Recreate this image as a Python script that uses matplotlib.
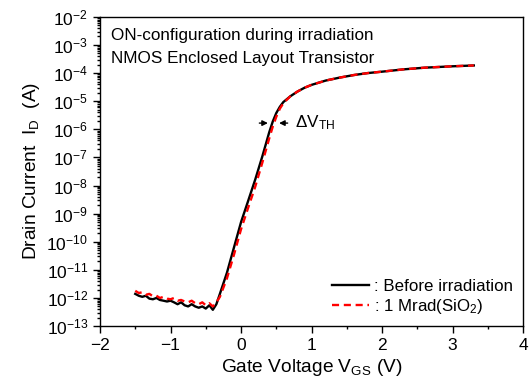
import matplotlib
matplotlib.use('Agg')
import matplotlib.pyplot as plt
from matplotlib.ticker import LogLocator, MultipleLocator, LogFormatterSciNotation, NullFormatter

plt.rcParams['font.family'] = 'Liberation Sans'
plt.rcParams['mathtext.fontset'] = 'custom'
plt.rcParams['mathtext.rm'] = 'Liberation Sans'
plt.rcParams['mathtext.it'] = 'Liberation Sans'
plt.rcParams['mathtext.default'] = 'regular'

# gate voltage (V)
vg_leak = [-1.5, -1.45, -1.4, -1.35, -1.3, -1.25, -1.2, -1.15, -1.1, -1.05,
           -1.0, -0.95, -0.9, -0.85, -0.8, -0.75, -0.7, -0.65, -0.6, -0.55,
           -0.5, -0.45, -0.4, -0.35]
vg_on = [-0.3, -0.2, -0.1, 0.0, 0.1, 0.2, 0.3, 0.4, 0.45, 0.5, 0.55, 0.6,
         0.7, 0.8, 0.9, 1.0, 1.2, 1.4, 1.6, 1.8, 2.0, 2.3, 2.6, 3.0, 3.3]

# drain current (A), before irradiation
id_before_leak = [1.4e-12, 1.2e-12, 1.1e-12, 1.2e-12, 0.95e-12, 0.9e-12, 1.0e-12, 0.85e-12,
                  0.8e-12, 0.75e-12, 0.8e-12, 0.7e-12, 0.6e-12, 0.7e-12, 0.55e-12, 0.5e-12,
                  0.6e-12, 0.5e-12, 0.45e-12, 0.5e-12, 0.42e-12, 0.55e-12, 0.38e-12, 0.6e-12]
id_before_on = [1.4e-12, 7.9e-12, 6.3e-11, 5.0e-10, 2.8e-9, 1.6e-8, 1.05e-7, 7.9e-7, 1.9e-6,
                3.8e-6, 6.3e-6, 9.3e-6, 1.5e-5, 2.2e-5, 3.0e-5, 3.8e-5, 5.4e-5, 6.9e-5,
                8.5e-5, 1.0e-4, 1.12e-4, 1.35e-4, 1.55e-4, 1.74e-4, 1.86e-4]

# drain current (A), after 1 Mrad
id_after_leak = [1.8e-12, 1.5e-12, 1.6e-12, 1.3e-12, 1.4e-12, 1.15e-12, 1.2e-12, 1.0e-12,
                 1.1e-12, 0.95e-12, 0.9e-12, 1.0e-12, 0.8e-12, 0.85e-12, 0.75e-12, 0.7e-12,
                 0.8e-12, 0.65e-12, 0.6e-12, 0.7e-12, 0.55e-12, 0.65e-12, 0.5e-12, 0.7e-12]
id_after_on = [1.1e-12, 5.0e-12, 3.5e-11, 2.8e-10, 1.6e-9, 8.9e-9, 6.3e-8, 4.8e-7, 1.26e-6,
               2.8e-6, 5.4e-6, 8.5e-6, 1.5e-5, 2.2e-5, 3.0e-5, 3.8e-5, 5.4e-5, 6.9e-5,
               8.5e-5, 1.0e-4, 1.12e-4, 1.35e-4, 1.55e-4, 1.74e-4, 1.86e-4]

vg = vg_leak + vg_on
id_before = id_before_leak + id_before_on
id_after = id_after_leak + id_after_on

fig = plt.figure(figsize=(5.29, 3.91), dpi=100)
ax = fig.add_axes([0.189, 0.166, 0.8, 0.791])

ax.plot(vg, id_before, color='black', lw=1.7, label=': Before irradiation')
ax.plot(vg, id_after, color='red', lw=1.7, ls=(0, (3, 2)), label=': 1 Mrad(SiO$_2$)')

ax.set_yscale('log')
ax.set_xlim(-2, 4)
ax.set_ylim(1e-13, 1e-2)

ax.xaxis.set_major_locator(MultipleLocator(1))
ax.xaxis.set_minor_locator(MultipleLocator(0.5))
ax.yaxis.set_major_locator(LogLocator(base=10, numticks=20))
ax.yaxis.set_minor_locator(LogLocator(base=10, subs=range(2, 10), numticks=20))
ax.yaxis.set_major_formatter(LogFormatterSciNotation())
ax.yaxis.set_minor_formatter(NullFormatter())

ax.tick_params(which='both', direction='out', top=False, right=False, labelsize=12.5, width=1)
ax.tick_params(which='major', length=5)
ax.tick_params(which='minor', length=2.5)
for s in ax.spines.values():
    s.set_linewidth(1)

ax.set_xlabel('Gate Voltage V$_{GS}$ (V)', fontsize=13.8, labelpad=3)
ax.set_ylabel('Drain Current  I$_D$  (A)', fontsize=13.8, labelpad=3)

ax.text(0.025, 0.965, 'ON-configuration during irradiation', transform=ax.transAxes,
        fontsize=12.3, va='top')
ax.text(0.025, 0.89, 'NMOS Enclosed Layout Transistor', transform=ax.transAxes,
        fontsize=12.3, va='top')

arrow_y = 1.66e-6
ax.annotate('', xy=(0.42, arrow_y), xytext=(0.22, arrow_y),
            arrowprops=dict(arrowstyle='-|>', color='black', lw=1, mutation_scale=8))
ax.annotate('', xy=(0.5, arrow_y), xytext=(0.7, arrow_y),
            arrowprops=dict(arrowstyle='-|>', color='black', lw=1, mutation_scale=8))
ax.text(0.76, arrow_y, '$\\Delta$V$_{TH}$', fontsize=12.3, va='center')

ax.legend(loc='lower right', frameon=False, fontsize=12.2, handlelength=2.2,
          handletextpad=0.3, labelspacing=0.15, borderaxespad=0.2)

fig.savefig('out.png', dpi=100)
